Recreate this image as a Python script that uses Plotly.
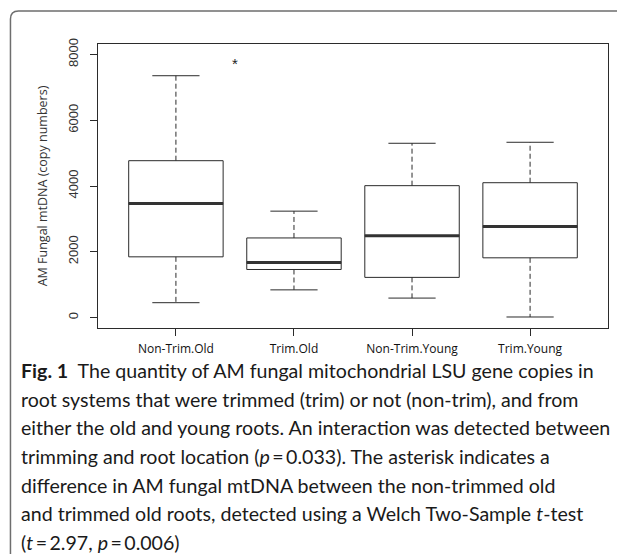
import plotly.graph_objects as go

# ---- data ----
categories = ["Non-Trim.Old", "Trim.Old", "Non-Trim.Young", "Trim.Young"]
positions = [1, 2, 3, 4]
lower_whisker = [450, 840, 590, 15]
q1_vals = [1845, 1460, 1220, 1815]
median_vals = [3470, 1670, 2485, 2765]
q3_vals = [4770, 2420, 4010, 4100]
upper_whisker = [7355, 3235, 5300, 5330]
y_ticks = [0, 2000, 4000, 6000, 8000]
star_pos = (1.5, 7660)

caption_lines = [
    "<b>Fig. 1</b>  The quantity of AM fungal mitochondrial LSU gene copies in",
    "root systems that were trimmed (trim) or not (non-trim), and from",
    "either the old and young roots. An interaction was detected between",
    "trimming and root location (<i>p</i>\u2009=\u20090.033). The asterisk indicates a",
    "difference in AM fungal mtDNA between the non-trimmed old",
    "and trimmed old roots, detected using a Welch Two-Sample <i>t</i>-test",
    "(<i>t</i>\u2009=\u20092.97, <i>p</i>\u2009=\u20090.006)",
]

# page is rendered with an 8px body margin
OFF = 8
W, H = 617, 546
L, R, T, B = 89.6, 17, 36, 226.3
pw, ph = W - L - R, H - T - B


def px2x(px):
    return (px - OFF - L) / pw


def py2y(py):
    return (H - B - (py - OFF)) / ph


BOX_HALF = 0.4
CAP_HALF = 0.2
DARK = "#2b2b2b"

fig = go.Figure()

for i, c in enumerate(categories):
    fig.add_trace(go.Box(
        x=[positions[i]], q1=[q1_vals[i]], median=[median_vals[i]], q3=[q3_vals[i]],
        lowerfence=[q1_vals[i]], upperfence=[q3_vals[i]],
        width=2 * BOX_HALF, whiskerwidth=0, boxpoints=False,
        line=dict(color=DARK, width=1), fillcolor="white",
        name=c, showlegend=False, hoverinfo="skip",
    ))

# dashed whiskers
wx, wy = [], []
for i in range(len(categories)):
    p = positions[i]
    wx += [p, p, None, p, p, None]
    wy += [q3_vals[i], upper_whisker[i], None, q1_vals[i], lower_whisker[i], None]
fig.add_trace(go.Scatter(x=wx, y=wy, mode="lines", line=dict(color=DARK, width=1, dash="5px,3px"),
                         showlegend=False, hoverinfo="skip"))

# whisker caps
cx, cy = [], []
for i in range(len(categories)):
    p = positions[i]
    for v in (upper_whisker[i], lower_whisker[i]):
        cx += [p - CAP_HALF, p + CAP_HALF, None]
        cy += [v, v, None]
fig.add_trace(go.Scatter(x=cx, y=cy, mode="lines", line=dict(color=DARK, width=1),
                         showlegend=False, hoverinfo="skip"))

# thick medians
mx, my = [], []
for i in range(len(categories)):
    p = positions[i]
    mx += [p - BOX_HALF, p + BOX_HALF, None]
    my += [median_vals[i], median_vals[i], None]
fig.add_trace(go.Scatter(x=mx, y=my, mode="lines", line=dict(color="#333333", width=3),
                         showlegend=False, hoverinfo="skip"))

# asterisk
fig.add_trace(go.Scatter(x=[star_pos[0]], y=[star_pos[1]], mode="text", text=["*"],
                         textfont=dict(family="Liberation Sans", size=15, color="#222"),
                         textposition="middle center",
                         showlegend=False, hoverinfo="skip"))

fig.update_xaxes(
    range=[0.34, 4.66], tickmode="array", tickvals=positions, ticktext=categories,
    showline=True, mirror=True, linecolor=DARK, linewidth=1,
    ticks="outside", ticklen=7, tickcolor=DARK, showgrid=False, zeroline=False,
    ticklabelstandoff=3,
    tickfont=dict(family="Open Sans", size=12, color="#111"),
)
fig.update_yaxes(
    range=[-320, 8320], tickmode="array", tickvals=y_ticks,
    ticktext=[str(v) for v in y_ticks], tickangle=-90,
    showline=True, mirror=True, linecolor=DARK, linewidth=1,
    ticks="outside", ticklen=7, tickcolor=DARK, showgrid=False, zeroline=False,
    ticklabelstandoff=7,
    tickfont=dict(family="Liberation Sans", size=13, color="#333"),
    title=dict(text="AM Fungal mtDNA (copy numbers)", standoff=15,
               font=dict(family="Open Sans", size=12.5, color="#333")),
)

annotations = []
caption_y = [370, 399, 427.5, 456.5, 485, 513.5, 542]
for line, py in zip(caption_lines, caption_y):
    annotations.append(dict(
        text=line, xref="paper", yref="paper", x=px2x(19), y=py2y(py),
        xanchor="left", yanchor="middle", showarrow=False, align="left",
        font=dict(family="Lato", size=19.6, color="#1a1a1a"),
    ))

r = 8
border_path = (f"M {px2x(10)} {py2y(560)} L {px2x(10)} {py2y(11 + r)} "
               f"Q {px2x(10)} {py2y(11)} {px2x(10 + r)} {py2y(11)} L {px2x(630)} {py2y(11)}")
shapes = [dict(type="path", xref="paper", yref="paper", path=border_path,
               line=dict(color="#6e6e6e", width=1.5))]

fig.update_layout(
    width=W, height=H, margin=dict(l=L, r=R, t=T, b=B, autoexpand=False),
    paper_bgcolor="white", plot_bgcolor="white",
    annotations=annotations, shapes=shapes,
)

fig.write_html("out.html")
